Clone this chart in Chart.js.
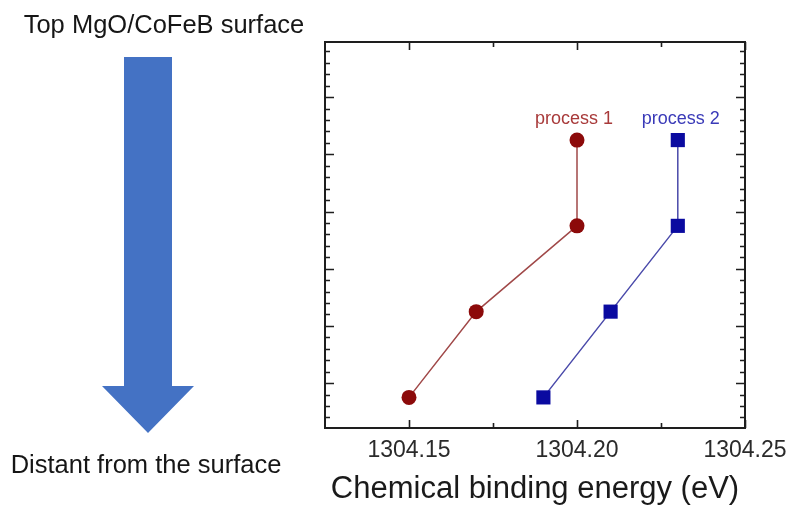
<!DOCTYPE html>
<html><head><meta charset="utf-8">
<script src="https://cdn.jsdelivr.net/npm/chart.js@4/dist/chart.umd.min.js"></script>
<style>
html,body{margin:0;padding:0;background:#fff;}
#wrap{position:relative;width:796px;height:506px;overflow:hidden;}
#c{position:absolute;left:0;top:0;}
#side{position:absolute;left:0;top:0;}
#side text{font-family:"Liberation Sans",Arial,sans-serif;font-size:25.5px;fill:#161616;}
</style></head><body>
<div id="wrap">
<canvas id="c" width="796" height="506"></canvas>
<svg id="side" width="320" height="506" xmlns="http://www.w3.org/2000/svg">
  <text x="164" y="33" text-anchor="middle">Top MgO/CoFeB surface</text>
  <polygon points="124,57 172,57 172,386 194,386 148,433 102,386 124,386" fill="#4472C4"/>
  <text x="146" y="473" text-anchor="middle">Distant from the surface</text>
</svg>
</div>
<script>
// ---- data ----
const seriesNames = ['process 1', 'process 2'];
const layerPos = [9.5, 6.5, 3.5, 0.5];            // top layer -> deepest layer
const energyP1 = [1304.20, 1304.20, 1304.17, 1304.15];
const energyP2 = [1304.23, 1304.23, 1304.21, 1304.19];
const xTickValues = [1304.15, 1304.175, 1304.20, 1304.225, 1304.25];
const xTickLabels = ['1304.15', '', '1304.20', '', '1304.25'];
const yMajorTicks = [1, 3, 5, 7, 9, 11];
const xRange = [1304.125, 1304.25];
const yRange = [-0.57, 12.93];

const pts = (xs) => layerPos.map((y, i) => ({x: xs[i], y: y}));

const framePlugin = {
  id: 'frame',
  afterDatasetsDraw(chart) {
    const {ctx, chartArea: a, scales: {x, y}} = chart;
    ctx.save();
    ctx.strokeStyle = '#1e1e1e';
    ctx.lineWidth = 2;
    ctx.strokeRect(a.left, a.top, a.right - a.left, a.bottom - a.top);
    ctx.lineWidth = 1.6;
    ctx.beginPath();
    // x ticks (bottom & top, inward)
    xTickValues.forEach((v, i) => {
      const px = Math.round(x.getPixelForValue(v)) + 0.5;
      const len = xTickLabels[i] ? 8 : 5;
      ctx.moveTo(px, a.bottom); ctx.lineTo(px, a.bottom - len);
      ctx.moveTo(px, a.top); ctx.lineTo(px, a.top + len);
    });
    // y ticks: majors + minors every 0.4
    for (let v = yMajorTicks[0] - 0.4 * 5; v <= yRange[1]; v += 0.4) {
      if (v < yRange[0]) continue;
      const isMajor = yMajorTicks.some(m => Math.abs(m - v) < 1e-6);
      const py = Math.round(y.getPixelForValue(v)) + 0.5;
      const len = isMajor ? 9 : 5;
      ctx.moveTo(a.left, py); ctx.lineTo(a.left + len, py);
      ctx.moveTo(a.right, py); ctx.lineTo(a.right - len, py);
    }
    ctx.stroke();
    // series labels
    ctx.font = '18px "Liberation Sans", Arial, sans-serif';
    ctx.textAlign = 'center';
    ctx.textBaseline = 'alphabetic';
    ctx.fillStyle = '#a83a3a';
    ctx.fillText(seriesNames[0], x.getPixelForValue(energyP1[0]) - 3, y.getPixelForValue(layerPos[0]) - 16);
    ctx.fillStyle = '#3a3ab8';
    ctx.fillText(seriesNames[1], x.getPixelForValue(energyP2[0]) + 3, y.getPixelForValue(layerPos[0]) - 16);
    ctx.restore();
  }
};

new Chart(document.getElementById('c'), {
  type: 'scatter',
  data: {
    datasets: [
      {
        label: seriesNames[0], data: pts(energyP1), showLine: true,
        borderColor: '#a04848', borderWidth: 1.5,
        pointStyle: 'circle', pointRadius: 7.5, pointHoverRadius: 7.5,
        pointBackgroundColor: '#8c0a0a', pointBorderWidth: 0
      },
      {
        label: seriesNames[1], data: pts(energyP2), showLine: true,
        borderColor: '#4a4aaa', borderWidth: 1.5,
        pointStyle: 'rect', pointRadius: 10, pointHoverRadius: 10,
        pointBackgroundColor: '#0a0aa0', pointBorderWidth: 0
      }
    ]
  },
  options: {
    responsive: false,
    animation: false,
    events: [],
    layout: {padding: {left: 325, right: 51, top: 42, bottom: 0}},
    plugins: {legend: {display: false}, tooltip: {enabled: false}},
    scales: {
      x: {
        type: 'linear', min: xRange[0], max: xRange[1],
        grid: {display: false, drawTicks: false},
        border: {display: false},
        afterBuildTicks: (s) => { s.ticks = xTickValues.map(v => ({value: v})); },
        afterFit: (s) => { s.height = 78; },
        ticks: {
          autoSkip: false, maxRotation: 0, padding: 9,
          color: '#2a2a2a',
          font: {family: '"Liberation Sans", Arial, sans-serif', size: 23},
          callback: (v, i) => xTickLabels[i]
        },
        title: {
          display: true, text: 'Chemical binding energy (eV)',
          color: '#1a1a1a',
          font: {family: '"Liberation Sans", Arial, sans-serif', size: 31},
          padding: {top: 2, bottom: -2}
        }
      },
      y: {
        type: 'linear', min: yRange[0], max: yRange[1], display: false
      }
    }
  },
  plugins: [framePlugin]
});
</script>
</body></html>
